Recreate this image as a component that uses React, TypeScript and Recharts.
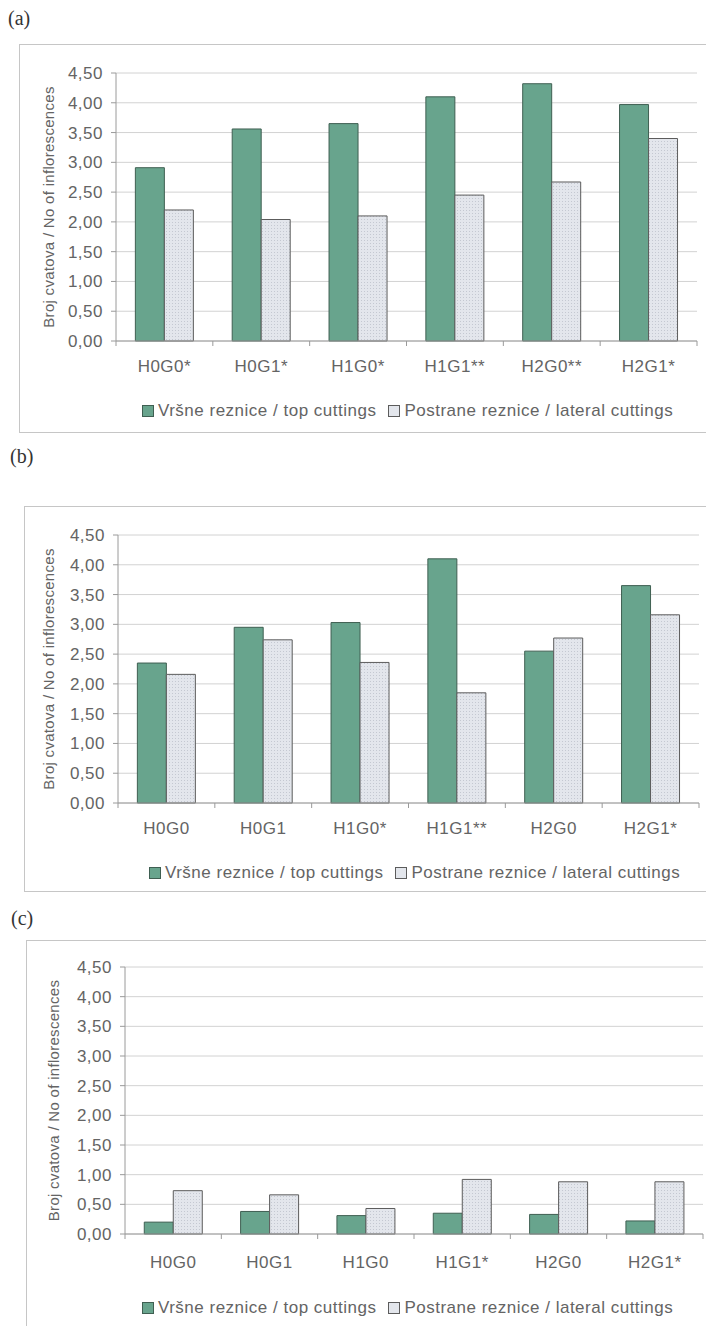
import React from "react";
import { BarChart, Bar, XAxis, YAxis, CartesianGrid, Legend } from "recharts";

// (a)
const categoriesA = ["H0G0*", "H0G1*", "H1G0*", "H1G1**", "H2G0**", "H2G1*"];
const topA = [2.91, 3.56, 3.65, 4.1, 4.32, 3.97];
const lateralA = [2.2, 2.04, 2.1, 2.45, 2.67, 3.4];

// (b)
const categoriesB = ["H0G0", "H0G1", "H1G0*", "H1G1**", "H2G0", "H2G1*"];
const topB = [2.35, 2.95, 3.03, 4.1, 2.55, 3.65];
const lateralB = [2.16, 2.74, 2.36, 1.85, 2.77, 3.16];

// (c)
const categoriesC = ["H0G0", "H0G1", "H1G0", "H1G1*", "H2G0", "H2G1*"];
const topC = [0.2, 0.38, 0.31, 0.35, 0.33, 0.22];
const lateralC = [0.73, 0.66, 0.43, 0.92, 0.88, 0.88];

const yTicks = [0, 0.5, 1, 1.5, 2, 2.5, 3, 3.5, 4, 4.5];
const seriesKeys = ["top", "lateral"];
const seriesNames = ["Vršne reznice / top cuttings", "Postrane reznice / lateral cuttings"];
const yTitle = "Broj cvatova / No of inflorescences";

const FONT = "'Liberation Sans', Arial, sans-serif";
const TEXT = "#646464";
const AXIS = "#9a9a9a";
const GRID = "#d2d2d2";
const GREEN = "#68a48d";
const GREEN_EDGE = "#3f5f52";
const LIGHT = "#e3e6ec";
const LIGHT_EDGE = "#5c5c5c";
const W = 706;

const rows = (cats: string[], top: number[], lateral: number[]) =>
  cats.map((name, i) => ({ name, top: top[i], lateral: lateral[i] }));

const fmt = (v: number) => v.toFixed(2).replace(".", ",");

function CategoryTick({ x, y, payload, index, band, dy, count }: any) {
  return (
    <g>
      <line x1={x - band / 2} x2={x - band / 2} y1={y} y2={y + 5} stroke={AXIS} />
      {index === count - 1 && (
        <line x1={x + band / 2} x2={x + band / 2} y1={y} y2={y + 5} stroke={AXIS} />
      )}
      <text
        x={x}
        y={y + dy}
        textAnchor="middle"
        fill={TEXT}
        fontSize={17}
        fontFamily={FONT}
        letterSpacing={0.5}
      >
        {payload.value}
      </text>
    </g>
  );
}

function LegendContent({ payload, left }: any) {
  // keep the series order, not the legend's alphabetical sort
  const items = seriesKeys
    .map((k) => (payload || []).find((e: any) => e.dataKey === k))
    .filter(Boolean);
  return (
    <div
      style={{
        paddingLeft: left,
        display: "flex",
        alignItems: "center",
        fontFamily: FONT,
        fontSize: 17,
        letterSpacing: 0.5,
        color: TEXT,
        whiteSpace: "nowrap",
        lineHeight: "20px",
      }}
    >
      {items.map((entry: any, i: number) => (
        <span key={i} style={{ display: "inline-flex", alignItems: "center", marginRight: 12 }}>
          <span
            style={{
              display: "inline-block",
              width: 10,
              height: 10,
              background: i === 0 ? GREEN : LIGHT,
              border: `1px solid ${i === 0 ? GREEN_EDGE : LIGHT_EDGE}`,
              marginRight: 4,
            }}
          />
          {entry.value}
        </span>
      ))}
    </div>
  );
}

function Panel({ id, label, labelPos, frame, chartTop, height, margin, titleX, tickDy, legendTop, legendLeft, data }: any) {
  const band = (W - margin.left - 60 - margin.right) / data.length;
  return (
    <>
      <div
        style={{
          position: "absolute",
          left: labelPos[0],
          top: labelPos[1],
          fontFamily: "'Liberation Serif', 'Times New Roman', serif",
          fontSize: 20,
          color: "#333",
          lineHeight: "22px",
        }}
      >
        {label}
      </div>
      <div
        style={{
          position: "absolute",
          left: frame.left,
          top: frame.top,
          width: W + 20 - frame.left,
          height: frame.height,
          border: "1px solid #c6c6c6",
          boxSizing: "border-box",
        }}
      />
      <div style={{ position: "absolute", left: 0, top: chartTop }}>
        <BarChart
          width={W}
          height={height}
          data={data}
          margin={margin}
          barCategoryGap="20%"
          barGap={0}
        >
          <defs>
            <pattern id={`dots-${id}`} width="3" height="3" patternUnits="userSpaceOnUse">
              <rect width="3" height="3" fill={LIGHT} />
              <rect x="1" y="1" width="1" height="1" fill="#c4c8d1" />
            </pattern>
          </defs>
          <CartesianGrid vertical={false} stroke={GRID} />
          <XAxis
            dataKey="name"
            interval={0}
            height={40}
            tickSize={0}
            tickMargin={0}
            tickLine={false}
            axisLine={{ stroke: AXIS }}
            tick={(p: any) => (
              <CategoryTick {...p} band={band} dy={tickDy} count={data.length} />
            )}
          />
          <YAxis
            domain={[0, 4.5]}
            ticks={yTicks}
            interval={0}
            width={60}
            tickSize={5}
            tickMargin={8}
            tickFormatter={fmt}
            axisLine={{ stroke: AXIS }}
            tickLine={{ stroke: AXIS }}
            tick={{ fill: TEXT, fontSize: 17, fontFamily: FONT, letterSpacing: 0.5 }}
            label={{
              content: (p: any) => {
                const vb = p.viewBox || {};
                const cy = (vb.y || 0) + (vb.height || 0) / 2;
                return (
                  <text
                    transform={`translate(${titleX}, ${cy}) rotate(-90)`}
                    textAnchor="middle"
                    dominantBaseline="middle"
                    fill={TEXT}
                    fontSize={15}
                    fontFamily={FONT}
                    letterSpacing={0.3}
                  >
                    {yTitle}
                  </text>
                );
              },
            }}
          />
          <YAxis
            yAxisId="frame"
            orientation="right"
            width={0}
            domain={[0, 4.5]}
            tick={false}
            tickLine={false}
            axisLine={{ stroke: AXIS }}
          />
          <Legend
            verticalAlign="middle"
            layout="horizontal"
            wrapperStyle={{ top: legendTop, left: 0, width: W }}
            content={(p: any) => <LegendContent payload={p.payload} left={legendLeft} />}
          />
          <Bar
            dataKey="top"
            name={seriesNames[0]}
            fill={GREEN}
            stroke={GREEN_EDGE}
            strokeWidth={1}
            isAnimationActive={false}
          />
          <Bar
            dataKey="lateral"
            name={seriesNames[1]}
            fill={`url(#dots-${id})`}
            stroke={LIGHT_EDGE}
            strokeWidth={1}
            isAnimationActive={false}
          />
        </BarChart>
      </div>
    </>
  );
}

export default function App() {
  return (
    <div
      style={{
        position: "absolute",
        left: 0,
        top: 0,
        width: W,
        height: 1326,
        overflow: "hidden",
        background: "#fff",
      }}
    >
      <Panel
        id="a"
        label="(a)"
        labelPos={[8, 7]}
        frame={{ left: 19, top: 44, height: 389 }}
        chartTop={44}
        height={388}
        margin={{ top: 29, right: 9, bottom: 51, left: 56 }}
        titleX={50}
        tickDy={31}
        legendTop={357}
        legendLeft={142}
        data={rows(categoriesA, topA, lateralA)}
      />
      <Panel
        id="b"
        label="(b)"
        labelPos={[10, 445]}
        frame={{ left: 24, top: 506, height: 386 }}
        chartTop={506}
        height={385}
        margin={{ top: 29, right: 7, bottom: 48, left: 58 }}
        titleX={50}
        tickDy={31}
        legendTop={357}
        legendLeft={149}
        data={rows(categoriesB, topB, lateralB)}
      />
      <Panel
        id="c"
        label="(c)"
        labelPos={[11, 907]}
        frame={{ left: 26, top: 940, height: 420 }}
        chartTop={940}
        height={386}
        margin={{ top: 27, right: 3, bottom: 52, left: 65 }}
        titleX={55}
        tickDy={34}
        legendTop={358}
        legendLeft={142}
        data={rows(categoriesC, topC, lateralC)}
      />
    </div>
  );
}
